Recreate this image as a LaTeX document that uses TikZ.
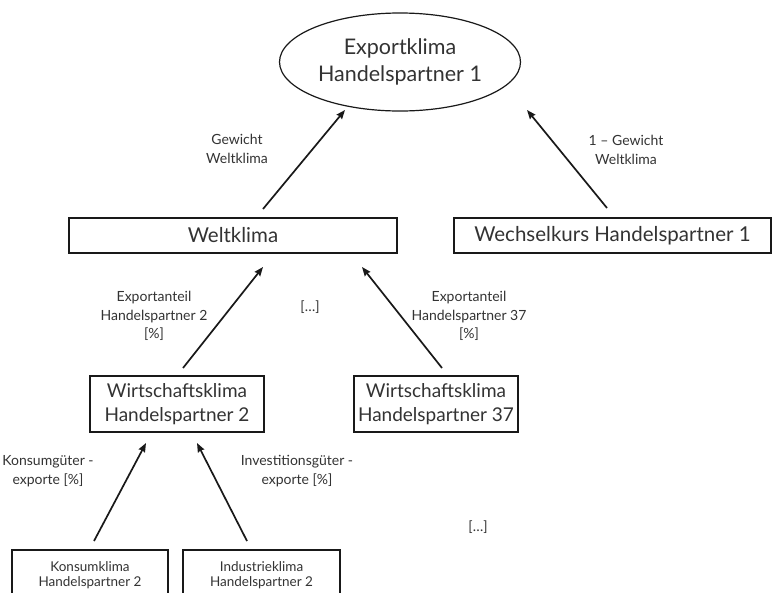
\documentclass[tikz,border=0pt]{standalone}
\usepackage{fontspec}
\setmainfont{Lato}
\usetikzlibrary{shapes.geometric,arrows.meta}
\definecolor{txt}{HTML}{333333}
\begin{document}
\begin{tikzpicture}[x=1pt,y=-1pt,
  box/.style={draw=black!90,line width=1.2pt,inner sep=0pt,align=center,text=txt,font=\fontsize{20.5}{24}\selectfont},
  midbox/.style={box,font=\fontsize{19}{24}\selectfont},
  smallbox/.style={box,font=\fontsize{13.5}{15.5}\selectfont},
  lbl/.style={align=center,text=txt,font=\fontsize{14}{18.5}\selectfont,inner sep=0pt},
  arr/.style={draw=black!90,line width=1.7pt,-{Stealth[length=9pt,width=7pt,inset=1pt]}}]
\clip (0,0) rectangle (775,592);
\fill[white] (0,0) rectangle (775,592);

\node[box,shape=ellipse,minimum width=241pt,minimum height=98pt,font=\fontsize{21.5}{26.5}\selectfont] (ex) at (400,62) {Exportklima\\Handelspartner 1};
\node[box,minimum width=328pt,minimum height=35pt] (welt) at (233,235.5) {Weltklima};
\node[box,minimum width=317pt,minimum height=35pt] (wech) at (612.5,235.5) {Wechselkurs Handelspartner 1};
\node[midbox,minimum width=174pt,minimum height=56pt] (w2) at (177,404) {Wirtschaftsklima\\Handelspartner 2};
\node[midbox,minimum width=164pt,minimum height=56pt] (w37) at (436,404) {Wirtschaftsklima\\Handelspartner 37};
\node[smallbox,minimum width=156pt,minimum height=50pt] (kons) at (90,575) {Konsumklima\\Handelspartner 2};
\node[smallbox,minimum width=157pt,minimum height=50pt] (ind) at (261.5,575) {Industrieklima\\Handelspartner 2};

\coordinate (t1) at (263,209); \coordinate (h1) at (345,110);
\coordinate (t2) at (607,208); \coordinate (h2) at (527,110);
\coordinate (t3) at (183,368); \coordinate (h3) at (263,267);
\coordinate (t4) at (442,368); \coordinate (h4) at (362,267);
\coordinate (t5) at (94,541);  \coordinate (h5) at (146,443);
\coordinate (t6) at (247,541); \coordinate (h6) at (197,443);

\draw[arr] (t1) -- (h1);
\draw[arr] (t2) -- (h2);
\draw[arr] (t3) -- (h3);
\draw[arr] (t4) -- (h4);
\draw[arr] (t5) -- (h5);
\draw[arr] (t6) -- (h6);

\node[lbl] (l1) at (237,149) {Gewicht\\Weltklima};
\node[lbl] (l2) at (626,150) {1 – Gewicht\\Weltklima};
\node[lbl] (l3) at (154,316) {Exportanteil\\Handelspartner 2\\{[\%]}};
\node[lbl] (l4) at (469,316) {Exportanteil\\Handelspartner 37\\{[\%]}};
\node[lbl] (d1) at (310,307) {[…]};
\node[lbl] (l5) at (48,471) {Konsumgüter -\\exporte [\%]};
\node[lbl] (l6) at (297,471) {Investitionsgüter -\\exporte [\%]};
\node[lbl] (d2) at (478,527) {[…]};
\end{tikzpicture}
\end{document}
